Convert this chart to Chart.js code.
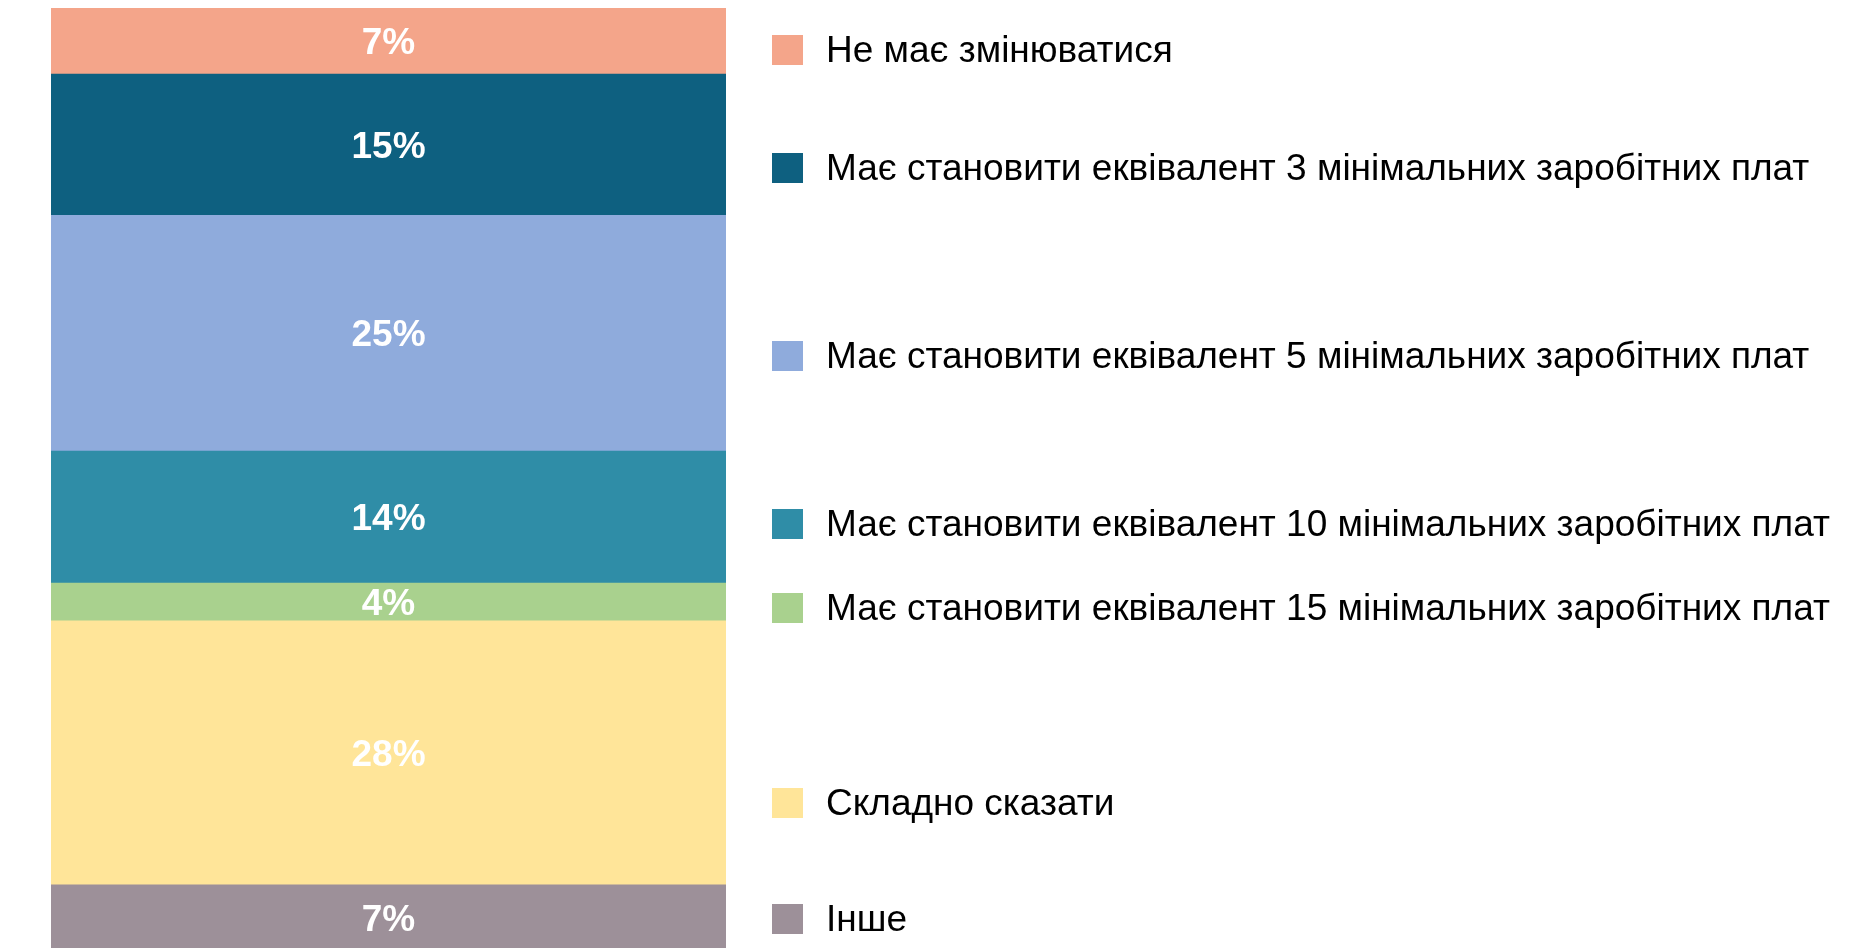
<!DOCTYPE html>
<html lang="uk">
<head>
<meta charset="utf-8">
<title>Stacked bar</title>
<script src="https://cdn.jsdelivr.net/npm/chart.js@4"></script>
<style>
    html, body { margin: 0; padding: 0; background: #ffffff; overflow: hidden; }
    canvas { display: block; }
</style>
</head>
<body>
<canvas id="grafico" width="1856" height="948"></canvas>
<script>
// categories from top of the bar to bottom (same order as the legend)
const categorias = [
    'Не має змінюватися',
    'Має становити еквівалент 3 мінімальних заробітних плат',
    'Має становити еквівалент 5 мінімальних заробітних плат',
    'Має становити еквівалент 10 мінімальних заробітних плат',
    'Має становити еквівалент 15 мінімальних заробітних плат',
    'Складно сказати',
    'Інше'
];
const valores = [7, 15, 25, 14, 4, 28, 7];
const cores = ['#F4A58A', '#0E6080', '#8FABDC', '#2F8DA7', '#A9D18E', '#FFE599', '#9D9099'];

// legend rows sit at fixed heights in the original layout
const legendaY = [50, 168, 356, 524, 608, 803, 919];

// Chart.js stacks the first dataset at the bottom, so build them reversed
const datasets = categorias.map((nome, i) => ({
    label: nome,
    data: [valores[i]],
    backgroundColor: cores[i],
    borderWidth: 0,
    categoryPercentage: 1,
    barPercentage: 1
})).reverse();

const rotulos = {
    id: 'rotulos',
    afterDatasetsDraw(chart) {
        const ctx = chart.ctx;
        ctx.save();
        ctx.fillStyle = '#ffffff';
        ctx.font = 'bold 37px "Liberation Sans", Arial, sans-serif';
        ctx.textAlign = 'center';
        ctx.textBaseline = 'middle';
        chart.data.datasets.forEach((ds, i) => {
            const bar = chart.getDatasetMeta(i).data[0];
            const { x, y, base } = bar.getProps(['x', 'y', 'base'], true);
            ctx.fillText(ds.data[0] + '%', x, (y + base) / 2 + 3);
        });
        ctx.restore();
    }
};

const legenda = {
    id: 'legenda',
    afterDraw(chart) {
        const ctx = chart.ctx;
        ctx.save();
        ctx.font = '37px "Liberation Sans", Arial, sans-serif';
        ctx.textBaseline = 'middle';
        ctx.textAlign = 'left';
        categorias.forEach((nome, i) => {
            const y = legendaY[i];
            ctx.fillStyle = cores[i];
            ctx.fillRect(772, y - 15, 31, 30);
            ctx.fillStyle = '#000000';
            ctx.fillText(nome, 826, y + 2);
        });
        ctx.restore();
    }
};

new Chart(document.getElementById('grafico').getContext('2d'), {
    type: 'bar',
    data: {
        labels: [''],
        datasets: datasets
    },
    options: {
        responsive: false,
        animation: false,
        layout: {
            padding: { left: 51, right: 1130, top: 8, bottom: 0 }
        },
        plugins: {
            legend: { display: false },
            tooltip: { enabled: false }
        },
        scales: {
            x: { stacked: true, display: false },
            // the bottom segment runs a little past the lower edge in the original
            y: { stacked: true, display: false, min: 0.3, max: 100 }
        }
    },
    plugins: [rotulos, legenda]
});
</script>
</body>
</html>
